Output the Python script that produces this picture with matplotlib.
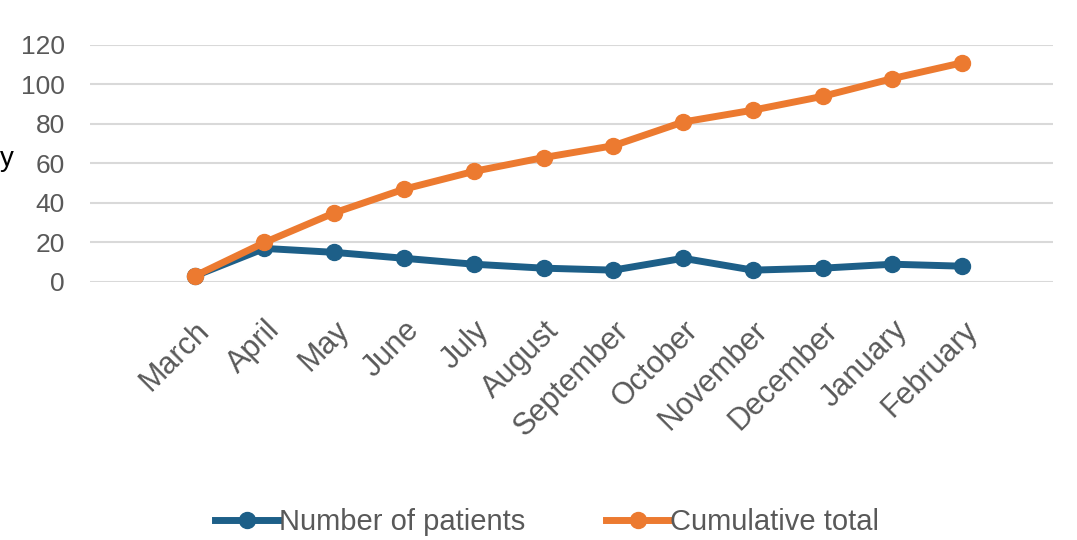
import matplotlib
matplotlib.use("Agg")
import matplotlib.pyplot as plt

months = ["March", "April", "May", "June", "July", "August", "September",
          "October", "November", "December", "January", "February"]
patients = [3, 17, 15, 12, 9, 7, 6, 12, 6, 7, 9, 8]
cumulative = [3, 20, 35, 47, 56, 63, 69, 81, 87, 94, 103, 111]
yticks = [0, 20, 40, 60, 80, 100, 120]

plt.rcParams['font.family'] = ['Liberation Sans', 'DejaVu Sans']

blue = "#1d5f88"
orange = "#ec7a30"
grey = "#595959"

fig = plt.figure(figsize=(10.77, 5.4), dpi=100)
ax = fig.add_axes([0.0836, 0.4778, 0.8941, 0.4389])

x = list(range(len(months)))
ax.plot(x, patients, color=blue, lw=5, marker="o", ms=11.5,
        label="Number of patients", clip_on=False, zorder=3)
ax.plot(x, cumulative, color=orange, lw=5, marker="o", ms=11.5,
        label="Cumulative total", clip_on=False, zorder=4)

ax.set_xlim(-1.5, 12.3)
ax.set_ylim(0, 120)
ax.set_yticks(yticks)
ax.set_xticks(x)
ax.set_xticklabels(months, rotation=45, ha="right", va="top",
                   rotation_mode="anchor")
ax.yaxis.grid(True, color="#d9d9d9", lw=1.5)
ax.set_axisbelow(True)
for s in ax.spines.values():
    s.set_visible(False)
ax.tick_params(axis="both", length=0, labelcolor=grey)
ax.tick_params(axis="x", pad=24, labelsize=22)
ax.tick_params(axis="y", pad=18, labelsize=19)

# cropped axis title fragment at left edge
fig.text(0.0, 0.693, "y", ha="left", va="baseline", fontsize=20, color="black")

fig.legend(loc="center", bbox_to_anchor=(0.508, 0.033), ncol=2, frameon=False,
           fontsize=21, labelcolor=grey, handlelength=2.2, handletextpad=0.0,
           columnspacing=2.75)

fig.savefig("out.png", dpi=100)
